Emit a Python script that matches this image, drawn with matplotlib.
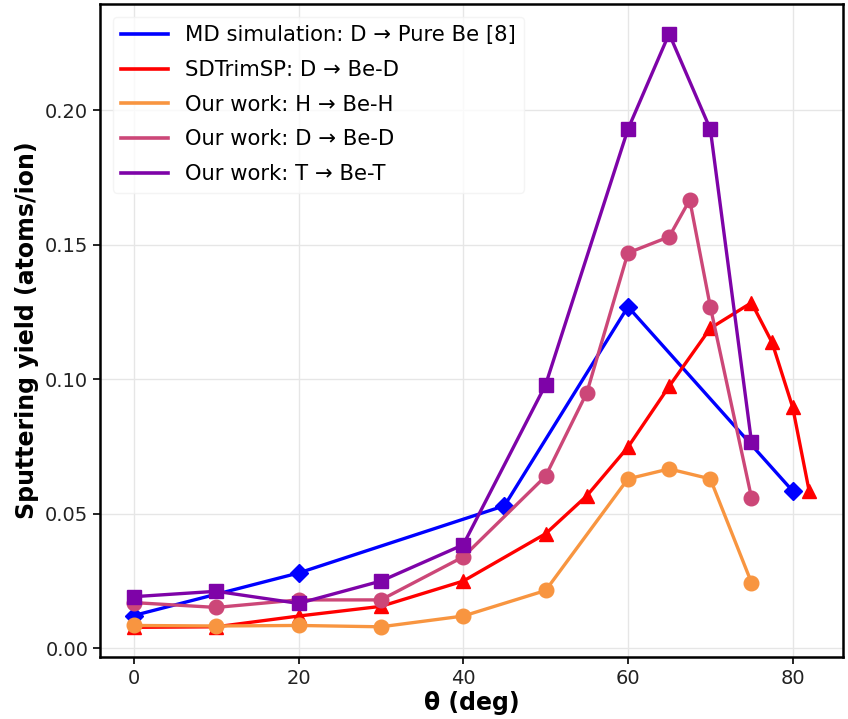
import matplotlib
matplotlib.use('Agg')
import matplotlib.pyplot as plt
from matplotlib.lines import Line2D

# data
md_theta = [0, 20, 45, 60, 80]
md_yield = [0.0122, 0.028, 0.053, 0.127, 0.0585]

sd_theta = [0, 10, 20, 30, 40, 50, 55, 60, 65, 70, 75, 77.5, 80, 82]
sd_yield = [0.0078, 0.008, 0.012, 0.0156, 0.025, 0.0426, 0.0567, 0.0748,
            0.0974, 0.119, 0.1285, 0.1137, 0.0896, 0.0585]

our_theta = [0, 10, 20, 30, 40, 50, 60, 65, 70, 75]
h_yield = [0.0085, 0.0083, 0.0085, 0.008, 0.012, 0.0215, 0.063, 0.0667, 0.063, 0.0244]
t_yield = [0.0192, 0.0212, 0.0167, 0.025, 0.0385, 0.098, 0.193, 0.2285, 0.193, 0.0767]

d_theta = [0, 10, 20, 30, 40, 50, 55, 60, 65, 67.5, 70, 75]
d_yield = [0.017, 0.0152, 0.018, 0.018, 0.034, 0.064, 0.095, 0.147, 0.153,
           0.1667, 0.127, 0.056]

labels = ['MD simulation: D \u2192 Pure Be [8]',
          'SDTrimSP: D \u2192 Be-D',
          'Our work: H \u2192 Be-H',
          'Our work: D \u2192 Be-D',
          'Our work: T \u2192 Be-T']

cmap = plt.get_cmap('plasma')
colors = ['blue', 'red', cmap(0.75), cmap(0.5), cmap(0.25)]

fig = plt.figure(figsize=(8.48, 7.19), dpi=100)
ax = fig.add_axes([0.118, 0.0862, 0.876, 0.9082])

lw = 2.4
ms = 9.5
ax.plot(md_theta, md_yield, color=colors[0], marker='D', lw=lw, ms=ms)
ax.plot(sd_theta, sd_yield, color=colors[1], marker='^', lw=lw, ms=ms + 1)
ax.plot(our_theta, h_yield, color=colors[2], marker='o', lw=lw, ms=ms + 1)
ax.plot(d_theta, d_yield, color=colors[3], marker='o', lw=lw, ms=ms + 1)
ax.plot(our_theta, t_yield, color=colors[4], marker='s', lw=lw, ms=ms)

ax.set_xticks([0, 20, 40, 60, 80])
ax.set_yticks([0.0, 0.05, 0.10, 0.15, 0.20])
ax.tick_params(labelsize=14, width=1.2, length=5, labelcolor='#222222')
ax.grid(True, color='#e6e6e6', lw=1)
for s in ax.spines.values():
    s.set_linewidth(1.8)

ax.set_xlabel('\u03b8 (deg)', fontsize=17, fontweight='bold', labelpad=2)
ax.set_ylabel('Sputtering yield (atoms/ion)', fontsize=17, fontweight='bold')

handles = [Line2D([], [], color=c, lw=2.6) for c in colors]
ax.legend(handles, labels, loc='upper left', fontsize=15.2, handlelength=2.2,
          labelspacing=0.7, borderaxespad=0.6, edgecolor='#f2f2f2')

fig.savefig('out.png', dpi=100)
